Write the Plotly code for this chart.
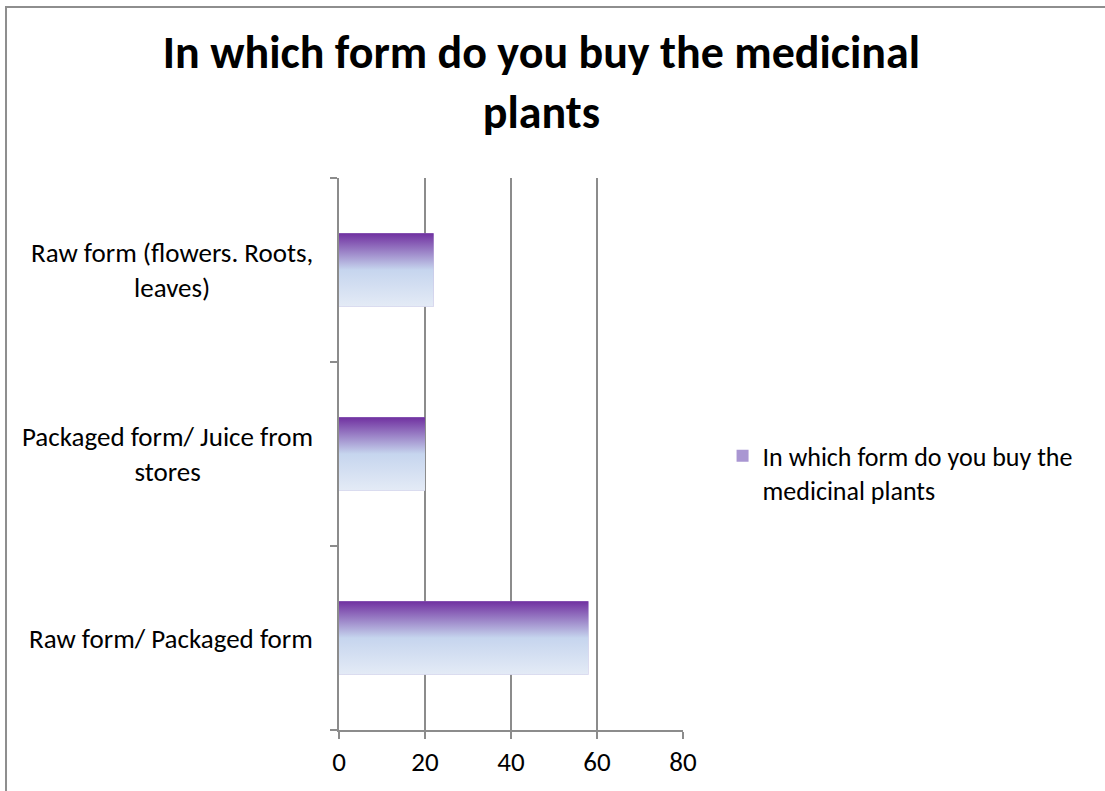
import plotly.graph_objects as go

# Survey answers (bottom to top on the chart) and their shares
categories = [
    "Raw form/ Packaged form",
    "Packaged form/ Juice from<br>stores",
    "Raw form (flowers. Roots,<br>leaves)",
]
values = [58, 20, 22]
series_name = "In which form do you buy the<br>medicinal plants"
title_text = "In which form do you buy the medicinal<br>plants"
x_ticks = [0, 20, 40, 60, 80]

FONT = "Calibri, Carlito, Lato, sans-serif"
GRID = "#8C8C8C"
BAR_HALF = 0.2
# vertical fill: 0 = bottom edge of bar, 1 = top edge
GRADIENT = [[0.0, "#E4EBF6"], [0.5, "#C6D5EE"], [1.0, "#7030A0"]]

positions = list(range(len(categories)))

fig = go.Figure()

# base bar trace (carries the legend entry)
fig.add_trace(go.Bar(
    x=values, y=positions, orientation="h", width=2 * BAR_HALF,
    marker=dict(color="#A996D2", line=dict(width=0)),
    name=series_name, showlegend=True, hoverinfo="x",
))

# gradient face for every bar, built from the same values
for pos, val in zip(positions, values):
    fig.add_trace(go.Scatter(
        x=[0, val, val, 0, 0],
        y=[pos - BAR_HALF, pos - BAR_HALF, pos + BAR_HALF, pos + BAR_HALF, pos - BAR_HALF],
        mode="none", fill="toself",
        fillgradient=dict(type="vertical", colorscale=GRADIENT),
        showlegend=False, hoverinfo="skip",
    ))

# category labels, centred multi-line text left of the axis
for pos, cat in zip(positions, categories):
    fig.add_annotation(
        x=0, y=pos, xref="x", yref="y", text=cat, showarrow=False,
        xanchor="right", yanchor="middle", align="center", xshift=-24,
        font=dict(family=FONT, size=27, color="#000000"),
    )

# outer chart frame
fig.add_shape(
    type="rect", xref="paper", yref="paper",
    x0=-0.968, x1=2.3, y0=-0.2, y1=1.31,
    line=dict(color="#8E8E8E", width=2), fillcolor="rgba(0,0,0,0)",
)

fig.update_layout(
    width=1105, height=791,
    margin=dict(l=339, r=422, t=178, b=61),
    paper_bgcolor="white", plot_bgcolor="white",
    barmode="overlay",
    title=dict(
        text=title_text, x=0.49, xref="container", xanchor="center",
        y=1 - 68 / 791, yref="container", yanchor="top",
        font=dict(family=FONT, size=46, color="#000000", weight="bold"),
    ),
    xaxis=dict(
        range=[0, 80], tickvals=x_ticks, ticktext=[str(t) for t in x_ticks],
        showgrid=True, gridcolor=GRID, gridwidth=1.5,
        showline=True, linecolor=GRID, linewidth=1.5,
        ticks="outside", ticklen=7, tickcolor=GRID, tickwidth=1.5,
        ticklabelstandoff=0,
        tickfont=dict(family=FONT, size=27, color="#000000"),
        zeroline=False, fixedrange=True,
    ),
    yaxis=dict(
        range=[-0.5, len(categories) - 0.5],
        tickvals=[p - 0.5 for p in positions] + [len(categories) - 0.5],
        ticktext=[""] * (len(categories) + 1),
        showgrid=False, zeroline=False,
        showline=True, linecolor=GRID, linewidth=1.5,
        ticks="outside", ticklen=7, tickcolor=GRID, tickwidth=1.5,
        fixedrange=True,
    ),
    legend=dict(
        x=1.115, y=0.466, xanchor="left", yanchor="middle", valign="top",
        font=dict(family=FONT, size=26, color="#000000"),
        bgcolor="rgba(0,0,0,0)", borderwidth=0,
    ),
    showlegend=True,
)

fig.write_html("out.html")
